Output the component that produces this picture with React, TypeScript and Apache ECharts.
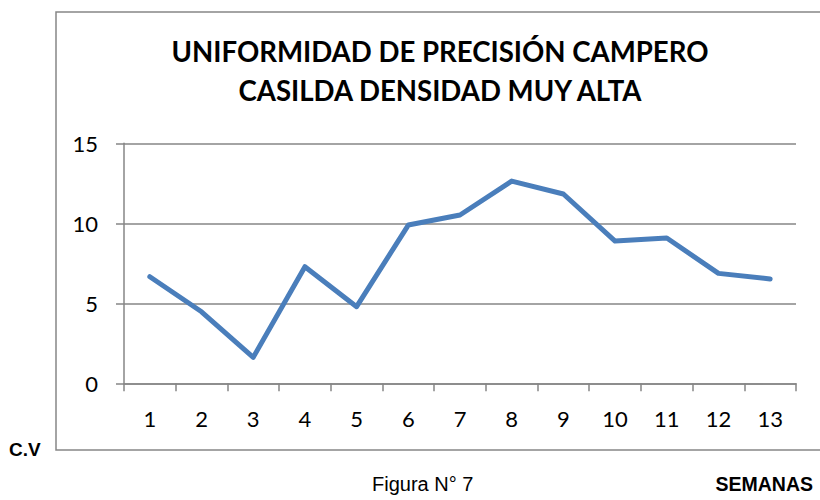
import React, { useEffect, useRef } from "react";
import * as echarts from "echarts";

const categories = ["1", "2", "3", "4", "5", "6", "7", "8", "9", "10", "11", "12", "13"];
const cvValues = [6.66, 4.47, 1.62, 7.29, 4.79, 9.89, 10.52, 12.64, 11.83, 8.89, 9.08, 6.87, 6.52];
const yTicks = [0, 5, 10, 15];
const titleLines = ["UNIFORMIDAD DE PRECISIÓN CAMPERO", "CASILDA DENSIDAD MUY ALTA"];

export default function App() {
  const ref = useRef<HTMLDivElement>(null);
  useEffect(() => {
    if (!ref.current) return;
    const chart = echarts.init(ref.current, null, { renderer: "svg" });
    const grey = "#868686";
    chart.setOption({
      animation: false,
      backgroundColor: "#ffffff",
      grid: { left: 124, right: 24, top: 143.3, bottom: 116.7, containLabel: false },
      title: {
        text: titleLines.join("\n"),
        left: 435,
        textAlign: "center",
        top: 27,
        textStyle: { fontFamily: "Lato", fontWeight: "bold", fontSize: 27.6, lineHeight: 39, color: "#000" },
      },
      xAxis: {
        type: "category",
        data: categories,
        boundaryGap: true,
        axisLine: { lineStyle: { color: grey, width: 1.5 } },
        axisTick: { show: true, interval: 0, length: 8, lineStyle: { color: grey, width: 1.5 } },
        axisLabel: { interval: 0, margin: 24, fontFamily: "Lato", fontSize: 22, color: "#000" },
        splitLine: { show: false },
      },
      yAxis: {
        type: "value",
        min: yTicks[0],
        max: yTicks[yTicks.length - 1],
        interval: 5,
        axisLine: { show: true, lineStyle: { color: grey, width: 1.5 } },
        axisTick: { show: true, length: 8, lineStyle: { color: grey, width: 1.5 } },
        axisLabel: { margin: 26, fontFamily: "Lato", fontSize: 22, color: "#000" },
        splitLine: { show: true, lineStyle: { color: grey, width: 1.5 } },
      },
      series: [
        {
          type: "line",
          data: cvValues,
          symbol: "none",
          lineStyle: { color: "#4a7ebb", width: 5, cap: "round", join: "round" },
        },
      ],
      graphic: [
        {
          type: "polyline",
          shape: { points: [[830, 12], [56, 12], [56, 450], [830, 450]] },
          style: { stroke: grey, lineWidth: 1.5, fill: "none" },
          silent: true,
        },
        {
          type: "text",
          x: 9,
          y: 449.5,
          style: { text: "C.V", fontFamily: "Liberation Sans", fontWeight: "bold", fontSize: 19, fill: "#000", verticalAlign: "middle" },
        },
        {
          type: "text",
          x: 372,
          y: 484,
          style: { text: "Figura N° 7", fontFamily: "Liberation Sans", fontSize: 20, fill: "#000", verticalAlign: "middle" },
        },
        {
          type: "text",
          x: 813,
          y: 484,
          style: { text: "SEMANAS", fontFamily: "Liberation Sans", fontWeight: "bold", fontSize: 19.5, fill: "#000", align: "right", verticalAlign: "middle" },
        },
      ],
    });
    return () => chart.dispose();
  }, []);
  return <div ref={ref} style={{ width: 820, height: 500, position: "absolute", left: 0, top: 0 }} />;
}
